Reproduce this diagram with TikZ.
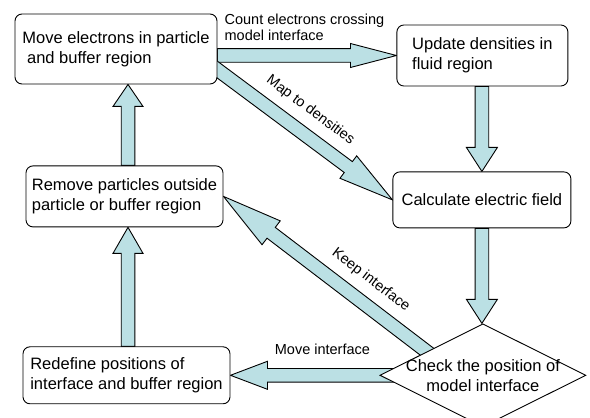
\documentclass[tikz,border=0pt]{standalone}
\usepackage{fontspec}
\setmainfont{Liberation Sans}
\usepackage{tikz}
\usetikzlibrary{shapes.geometric, positioning, calc, backgrounds}
\definecolor{arrowblue}{RGB}{187, 224, 228}

% fat block arrow: start, tip, head length, half head width
\newcommand{\fatarrow}[4]{%
  \coordinate (fa-s) at (#1);
  \coordinate (fa-e) at (#2);
  \coordinate (fa-b) at ($(fa-e)!#3!(fa-s)$);
  \filldraw[blockarrow]
    ($(fa-s)!6.8pt!90:(fa-e)$) -- ($(fa-b)!6.8pt!-90:(fa-s)$) --
    ($(fa-b)!#4!-90:(fa-s)$) -- (fa-e) -- ($(fa-b)!#4!90:(fa-s)$) --
    ($(fa-b)!6.8pt!90:(fa-s)$) -- ($(fa-s)!6.8pt!-90:(fa-e)$) -- cycle;
}

\begin{document}
\begin{tikzpicture}[
    x=1pt, y=1pt,
    every node/.style={font=\fontsize{16.5}{19.8}\selectfont},
    box/.style={rectangle, draw, fill=white, rounded corners=7pt, line width=0.9pt, align=left},
    decision/.style={diamond, draw, fill=white, line width=0.9pt, aspect=2, minimum width=206pt, minimum height=103pt, inner xsep=-4pt, inner ysep=-4pt, align=center},
    lbl/.style={font=\fontsize{14.5}{16.5}\selectfont, inner sep=0pt},
    blockarrow/.style={fill=arrowblue, draw=black, line width=0.9pt, line join=miter}
]
\useasboundingbox (0,0) rectangle (590,418);
\node[box, minimum width=202pt, minimum height=70pt] (move) at (116,369) {Move electrons in particle\\\hspace*{0.28em}and buffer region};
\node[box, minimum width=171pt, minimum height=61pt, right=179pt of move, yshift=-6.5pt] (update) {Update densities in\\fluid region};
\node[box, minimum width=178pt, minimum height=56pt, below=85pt of update, xshift=-0.5pt] (field) {Calculate electric field};
\node[decision, below=95pt of field, xshift=1pt] (check) {Check the position of\\model interface};
\node[box, minimum width=197pt, minimum height=61pt, below=81pt of move, xshift=8.5pt] (remove) {Remove particles outside\\particle or buffer region};
\node[box, minimum width=207pt, minimum height=57pt, below=119pt of remove, xshift=2pt] (redefine) {Redefine positions of\\interface and buffer region};
\coordinate (colL) at (128,0);
\coordinate (mapfrom) at ([xshift=-9pt, yshift=-14pt]move.east);
\coordinate (keepfrom) at ([xshift=-44pt, yshift=14.5pt]check.center);
\begin{scope}[on background layer]
\fatarrow{move.east |- update.west}{update.west}{46pt}{12pt}
\fatarrow{mapfrom}{field.west}{55pt}{14pt}
\fatarrow{field.north |- update.south}{field.north}{24pt}{15.5pt}
\fatarrow{field.south}{check.north -| field.south}{24pt}{15.5pt}
\fatarrow{keepfrom}{remove.east}{60pt}{15pt}
\fatarrow{[xshift=16pt]check.west}{redefine.east}{37pt}{14pt}
\fatarrow{colL |- redefine.north}{colL |- remove.south}{26pt}{15pt}
\fatarrow{colL |- remove.north}{colL |- move.south}{22pt}{15pt}
\end{scope}
\node[lbl, align=left, above right=8pt and 7pt of move.east] (countlbl) {Count electrons crossing\\model interface};
\path (mapfrom) -- (field.west) node[lbl, sloped, pos=0.48, anchor=south, outer ysep=16pt] (maplbl) {Map to densities};
\path (keepfrom) -- (remove.east) node[lbl, sloped, pos=0.38, anchor=south, outer ysep=16pt] (keeplbl) {Keep interface};
\node[lbl, anchor=base] (movelbl) at ([xshift=-57pt, yshift=21pt]check.west) {Move interface};
\end{tikzpicture}
\end{document}
